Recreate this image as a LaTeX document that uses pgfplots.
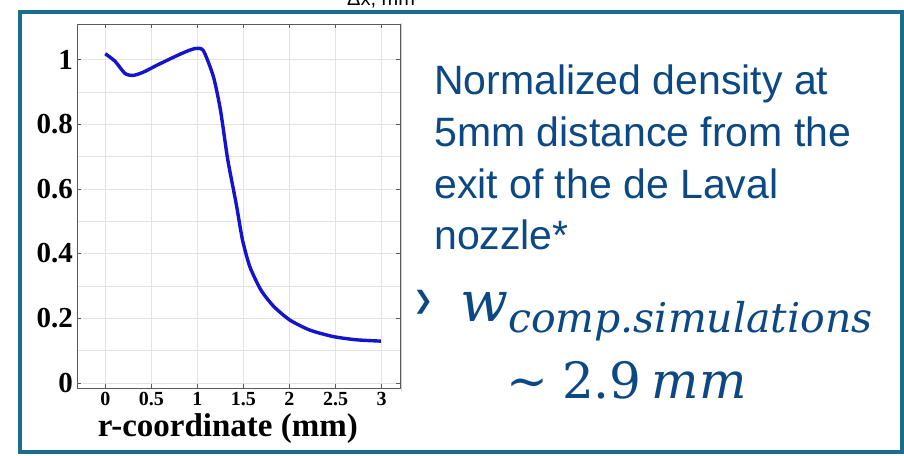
\documentclass[border=0pt]{standalone}
\usepackage{pgfplots}
\pgfplotsset{compat=1.18}
\usepackage{fontspec}
\setmainfont{Liberation Serif}
\newfontfamily\arial{Liberation Sans}
\newfontfamily\dejavu{DejaVu Sans}
\newfontfamily\dvserif{DejaVu Serif}
\definecolor{frameteal}{RGB}{26,110,140}
\definecolor{txtblue}{RGB}{12,72,132}
\definecolor{curveblue}{RGB}{20,20,205}
\begin{document}
\begin{tikzpicture}[x=1pt,y=1pt]
\useasboundingbox (0,0) rectangle (904,455);
\fill[white] (0,0) rectangle (904,455);
% cut-off label at top
\node[anchor=base west, inner sep=0pt, font=\arial\fontsize{20}{20}\selectfont] at (347,449) {Δx, mm};
% slide frame
\draw[frameteal, line width=4.5pt] (20,3) rectangle (902,443);
% chart image edge
\draw[gray!35, line width=0.8pt] (401,64) -- (401,432);
\begin{axis}[
  at={(77pt,67pt)}, anchor=south west,
  scale only axis, width=323pt, height=364pt,
  xmin=-0.307, xmax=3.2, ymin=-0.016, ymax=1.11,
  xtick={0,0.5,1,1.5,2,2.5,3},
  xticklabels={0,0.5,1,1.5,2,2.5,3},
  ytick={0,0.2,0.4,0.6,0.8,1},
  yticklabels={0,0.2,0.4,0.6,0.8,1},
  minor ytick={0.1,0.3,0.5,0.7,0.9},
  grid=both,
  major grid style={gray!22, line width=0.6pt},
  minor grid style={gray!22, line width=0.6pt},
  axis line style={gray!70!black, line width=0.8pt},
  tick style={gray!70!black, line width=0.6pt},
  major tick length=4pt, minor tick length=0pt,
  tick align=inside,
  /pgf/number format/assume math mode=true,
  yticklabel style={font=\fontsize{29}{29}\selectfont\bfseries, anchor=east, inner sep=0pt, xshift=-4pt},
  xticklabel style={font=\fontsize{20}{20}\selectfont\bfseries, anchor=center, inner sep=0pt, yshift=-11pt},
  xlabel={r-coordinate (mm)},
  xlabel style={font=\fontsize{33}{33}\selectfont\bfseries, at={(axis description cs:0.467,-0.134)}, anchor=base, inner sep=0pt},
]
\addplot[curveblue, line width=3.4pt, smooth, tension=0.4] coordinates {
(0,1.018) (0.105,0.995) (0.214,0.957) (0.304,0.951) (0.413,0.961)
(0.558,0.982) (0.703,1.002) (0.847,1.021) (0.974,1.034) (1.064,1.028)
(1.173,0.948) (1.25,0.845) (1.33,0.690) (1.42,0.556) (1.49,0.442)
(1.57,0.359) (1.69,0.287) (1.83,0.236) (2.005,0.194) (2.222,0.163)
(2.476,0.143) (2.73,0.133) (2.993,0.129)
};
\end{axis}
% right-hand text
\begin{scope}[every node/.style={anchor=base west, inner sep=0pt, text=txtblue, font=\arial\fontsize{41}{41}\selectfont}]
\node at (434,360) {Normalized density at};
\node at (434,308.3) {5mm distance from the};
\node at (434,256.7) {exit of the de Laval};
\node at (434,205.7) {nozzle*};
\end{scope}
\node[anchor=base west, inner sep=0pt, text=txtblue, font=\dejavu\bfseries\fontsize{24}{24}\selectfont] at (413,146) {❯};
\node[anchor=base west, inner sep=0pt, text=txtblue] at (460,133.3)
  {\dvserif\itshape\fontsize{56}{56}\selectfont w\raisebox{-11pt}{\fontsize{41}{41}\selectfont comp.simulations}};
\node[anchor=base west, inner sep=0pt, text=txtblue] at (506,56.7)
  {\dvserif\fontsize{50}{50}\selectfont ∼\hspace{14pt}2.9\hspace{10pt}\itshape mm};
\end{tikzpicture}
\end{document}
